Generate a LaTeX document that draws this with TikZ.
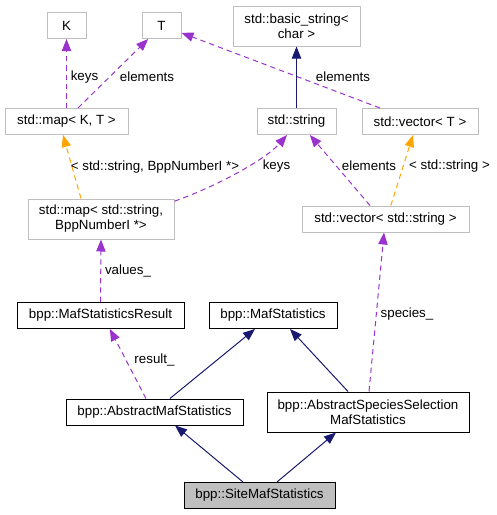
\documentclass[tikz,border=0pt]{standalone}
\usepackage{fontspec}
\setmainfont{Liberation Sans}
\usetikzlibrary{arrows.meta}
\usepackage{xcolor}
\definecolor{doxGrey}{HTML}{BFBFBF}
\definecolor{doxPurple}{HTML}{9A32CD}
\definecolor{doxOrange}{HTML}{FFA500}
\definecolor{doxNavy}{HTML}{191970}

\begin{document}
\begin{tikzpicture}[
    x=0.75pt, y=-0.75pt,
    >={Triangle[length=9pt,width=7pt]},
    font=\fontsize{10}{11.25}\selectfont,
    every node/.style={inner sep=0pt, align=center},
    extcls/.style={draw=doxGrey, line width=0.75pt, minimum height=19.5pt},
    bppcls/.style={draw=black, line width=0.75pt, minimum height=19.5pt},
    curcls/.style={bppcls, fill=doxGrey},
    usage/.style={->, doxPurple, line width=0.75pt, dash pattern=on 4pt off 3pt},
    tmpl/.style={->, doxOrange, line width=0.75pt, dash pattern=on 4pt off 3pt},
    inherit/.style={->, doxNavy, line width=0.75pt},
    lbl/.style={text=black}
]
    \useasboundingbox (0,0) rectangle (497,515);

    % template parameters and std classes
    \node[extcls, minimum width=29.25pt] (K) at (66.5,25.5) {K};
    \node[extcls, minimum width=29.25pt] (T) at (161.5,25.5) {T};
    \node[extcls, minimum width=95.25pt, minimum height=30pt] (basicStr) at (296.5,26) {std::basic\_string<\\char >};
    \node[extcls, minimum width=92.25pt] (mapKT) at (66.5,121.5) {std::map< K, T >};
    \node[extcls, minimum width=59.25pt] (stdStr) at (296.5,121.5) {std::string};
    \node[extcls, minimum width=87pt] (vecT) at (420,121.5) {std::vector< T >};
    \node[extcls, minimum width=109.5pt, minimum height=30pt] (mapStr) at (101,219) {std::map< std::string,\\BppNumberI *>};
    \node[extcls, minimum width=125.25pt] (vecStr) at (385.5,219) {std::vector< std::string >};

    % bpp classes
    \node[bppcls, minimum width=125.25pt] (result) at (100.5,315.5) {bpp::MafStatisticsResult};
    \node[bppcls, minimum width=96pt] (mafStat) at (273,315.5) {bpp::MafStatistics};
    \node[bppcls, minimum width=132.75pt] (absMaf) at (154.5,412) {bpp::AbstractMafStatistics};
    \node[bppcls, minimum width=151.5pt, minimum height=30pt] (absSpec) at (368,412) {bpp::AbstractSpeciesSelection\\MafStatistics};
    \node[curcls, minimum width=113.25pt] (site) at (259.5,495.5) {bpp::SiteMafStatistics};

    % connectors
    \draw[usage] (mapKT.north) -- (K.south);
    \draw[usage] ([xshift=8.6pt]mapKT.north) -- ([xshift=-10pt]T.south);
    \draw[usage] ([xshift=-30pt]vecT.north) -- ([yshift=-5.5pt]T.east);
    \draw[inherit] (stdStr.north) -- (basicStr.south);
    \draw[tmpl] ([xshift=-15pt]mapStr.north) -- ([xshift=-2.6pt]mapKT.south);
    \draw[usage] ([yshift=-2pt]mapStr.north east) .. controls (215,187) and (265,160) .. ([xshift=-7.1pt]stdStr.south);
    \draw[usage] ([xshift=-11.6pt]vecStr.north) -- ([xshift=10pt]stdStr.south);
    \draw[tmpl] ([xshift=4pt]vecStr.north) -- ([xshift=-5.25pt]vecT.south);
    \draw[usage] (result.north) -- (mapStr.south);
    \draw[usage] ([xshift=-6.4pt]absMaf.north) -- ([xshift=7pt]result.south);
    \draw[inherit] ([xshift=11.6pt]absMaf.north) -- ([xshift=-13.5pt]mafStat.south);
    \draw[inherit] ([xshift=-15pt]absSpec.north) -- ([xshift=12.75pt]mafStat.south);
    \draw[usage] ([xshift=0.75pt]absSpec.north) -- ([xshift=-1.1pt]vecStr.south);
    \draw[inherit] ([xshift=-12.4pt]site.north) -- ([xshift=15.4pt]absMaf.south);
    \draw[inherit] ([xshift=13.1pt]site.north) -- ([xshift=-24pt]absSpec.south);

    % edge labels
    \node[lbl] (lKeys) at (84.5,77) {keys};
    \node[lbl] (lElemT) at (147,77) {elements};
    \node[lbl] (lElemV) at (343,77) {elements};
    \node[lbl] (lMapArgs) at (155,167) {< std::string, BppNumberI *>};
    \node[lbl] (lKeysStr) at (276.5,166) {keys};
    \node[lbl] (lElemStr) at (369,166) {elements};
    \node[lbl] (lVecArgs) at (449.5,166) {< std::string >};
    \node[lbl] (lValues) at (128,271) {values\_};
    \node[lbl] (lResult) at (154.5,360) {result\_};
    \node[lbl] (lSpecies) at (407,314) {species\_};
\end{tikzpicture}
\end{document}
